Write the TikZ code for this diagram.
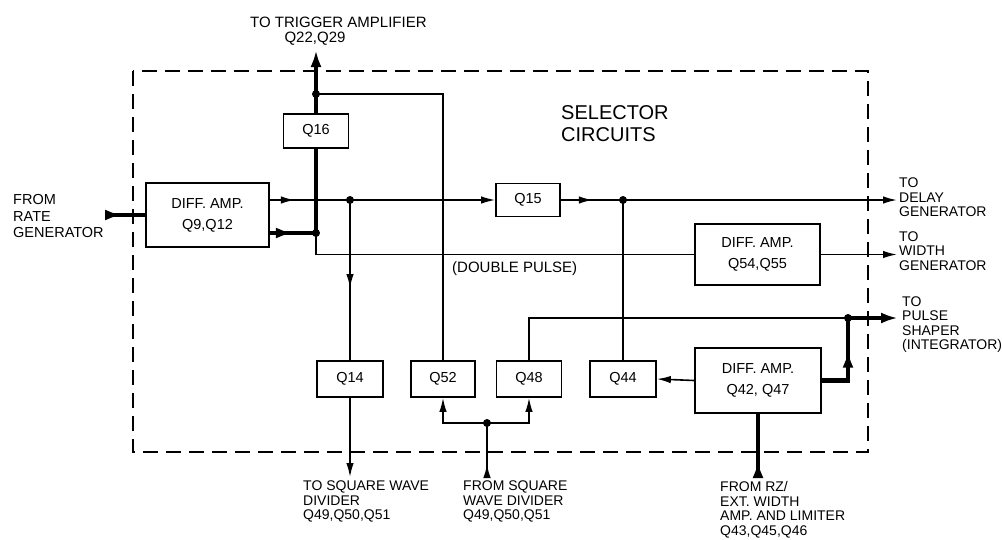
\documentclass[tikz,border=0pt]{standalone}
\usepackage{fontspec}
\setmainfont{Liberation Sans}
\usetikzlibrary{arrows.meta,decorations.markings,calc}
\begin{document}
\begin{tikzpicture}[x=1pt,y=-1pt,
  blk/.style={draw, line width=1.7pt, inner sep=0pt, align=center,
    font=\fontsize{14.5}{21}\selectfont},
  lbl/.style={inner sep=0pt, align=left, font=\fontsize{14}{14.5}\selectfont},
  wire/.style={line width=1.6pt},
  bus/.style={line width=4.5pt},
  tipa/.tip={Latex[length=14pt,width=7.5pt]},
  tipb/.tip={Latex[length=17pt,width=11pt]},
  midarr/.style={postaction={decorate}, decoration={markings,
    mark=at position #1 with {\arrow{tipa}}}},
  midarrb/.style={postaction={decorate}, decoration={markings,
    mark=at position #1 with {\arrow{tipb}}}}
]
\useasboundingbox (0,0) rectangle (1002,539);

% dashed enclosure
\draw[line width=1.7pt, dash pattern=on 15pt off 8pt] (133,71) rectangle (868,452);

% blocks
\node[blk, minimum width=123pt, minimum height=64pt] (da1) at (207.5,215) {DIFF. AMP.\\Q9,Q12};
\node[blk, minimum width=65pt, minimum height=34pt] (q16) at (316,131) {Q16};
\node[blk, minimum width=64pt, minimum height=33pt] (q15) at (528,200) {Q15};
\node[blk, minimum width=125pt, minimum height=61pt] (da2) at (757.5,254.5) {DIFF. AMP.\\Q54,Q55};
\node[blk, minimum width=66pt, minimum height=36pt] (q14) at (350,379) {Q14};
\node[blk, minimum width=64pt, minimum height=36pt] (q52) at (443,379) {Q52};
\node[blk, minimum width=65pt, minimum height=36pt] (q48) at (529,379) {Q48};
\node[blk, minimum width=66pt, minimum height=36pt] (q44) at (623,379) {Q44};
\node[blk, minimum width=126pt, minimum height=65pt] (da3) at (758,380.5) {DIFF. AMP.\\Q42, Q47};

% junctions and free ends
\coordinate (J1) at (316,94);
\coordinate (J2) at (316,233);
\coordinate (D1) at (350,200);
\coordinate (D2) at (623,200);
\coordinate (J3) at (848,318);
\coordinate (J4) at (487,423);
\coordinate (rin) at (105,215);
\coordinate (trig) at (316,50);
\coordinate (tdel) at (897,200);
\coordinate (twid) at (897,254.5);
\coordinate (tpul) at (898,318);
\coordinate (tsq) at (350,477);
\coordinate (fsq) at (487,478);
\coordinate (frz) at (758,477);

% input from rate generator
\draw[bus, midarrb=17pt] (rin) -- (da1.west);
% upper output of diff amp
\draw[wire, midarr=25pt] (da1.east |- D1) -- (D1);
\draw[wire, -{tipa}] (D1) -- (q15.west);
\draw[wire, midarr=32pt] (q15.east) -- (D2);
\draw[wire, -{tipa}] (D2) -- (tdel);
% lower output (thick)
\draw[bus, midarrb=23pt] (da1.east |- J2) -- (J2);
\draw[bus] (J2) -- (q16.south);
\draw[bus, -{tipb}] (q16.north) -- (trig);
\draw[wire] (J1) -| (q52.north);
\draw[wire] (J2) |- (da2.west);
\draw[wire, -{tipa}] (da2.east) -- (twid);
% Q14 branch
\draw[wire, midarr=88pt] (D1) -- (q14.north);
\draw[wire, -{tipa}] (q14.south) -- (tsq);
% Q44 branch
\draw[wire] (D2) -- (q44.north);
\draw[wire, -{tipa}] (da3.west) -- (q44.east);
% Q48 to pulse shaper
\draw[wire] (q48.north) |- (J3);
\draw[bus, -{tipb}] (J3) -- (tpul);
\draw[bus, midarrb=56pt] (da3.east) -| (J3);
% square wave inputs
\draw[wire, -{tipa}] (J4) -| (q52.south);
\draw[wire, -{tipa}] (J4) -| (q48.south);
\draw[wire, midarr=14pt] (fsq) -- (J4);
% RZ input
\draw[bus, midarrb=16pt] (frz) -- (da3.south);

% dots
\foreach \p in {J1,J2,D1,D2,J3,J4} \fill (\p) circle (4pt);

% labels
\node[lbl, anchor=west, font=\fontsize{14.5}{16.5}\selectfont] (lrate) at (13,216.5) {FROM\\RATE\\GENERATOR};
\node[lbl, anchor=west, font=\fontsize{15}{16.5}\selectfont] (ltrig) at (250,22) {TO TRIGGER AMPLIFIER};
\node[lbl, anchor=center, font=\fontsize{15}{16.5}\selectfont] (ltrig2) at (315,39) {Q22,Q29};
\node[lbl, anchor=west, font=\fontsize{20}{22}\selectfont] (lsel) at (561,124) {SELECTOR\\CIRCUITS};
\node[lbl, anchor=west, font=\fontsize{15}{16.5}\selectfont] (ldp) at (452,269) {(DOUBLE PULSE)};
\node[lbl, anchor=west] (ldel) at (899,197.5) {TO\\DELAY\\GENERATOR};
\node[lbl, anchor=west] (lwid) at (899,251) {TO\\WIDTH\\GENERATOR};
\node[lbl, anchor=west] (lpul) at (902,324.5) {TO\\PULSE\\SHAPER\\(INTEGRATOR)};
\node[lbl, anchor=west] (lsq) at (303,501.5) {TO SQUARE WAVE\\DIVIDER\\Q49,Q50,Q51};
\node[lbl, anchor=west] (lfsq) at (463,501.5) {FROM SQUARE\\WAVE DIVIDER\\Q49,Q50,Q51};
\node[lbl, anchor=west] (lrz) at (720,509.5) {FROM RZ/\\EXT. WIDTH\\AMP. AND LIMITER\\Q43,Q45,Q46};
\end{tikzpicture}
\end{document}
